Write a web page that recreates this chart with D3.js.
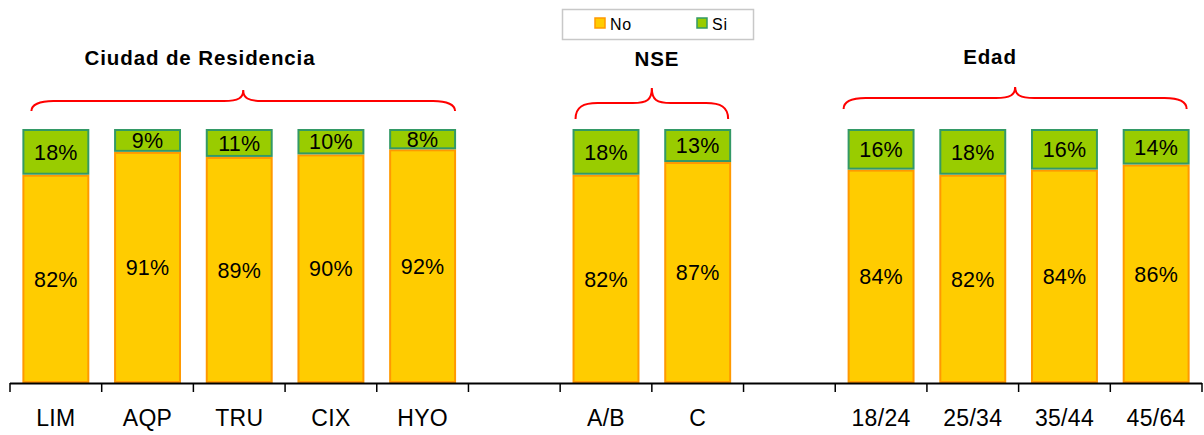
<!DOCTYPE html>
<html>
<head>
<meta charset="utf-8">
<script src="https://cdn.jsdelivr.net/npm/d3@7/dist/d3.min.js"></script>
<style>
  html, body { margin: 0; padding: 0; background: #fff; }
  svg { display: block; font-family: "Liberation Sans", Arial, sans-serif; }
</style>
</head>
<body>
<svg id="chart" width="1204" height="435"></svg>
<script>
// Categories along the axis; empty slots separate the three groups
const categories = ["LIM", "AQP", "TRU", "CIX", "HYO", "_g1", "A/B", "C", "_g2", "18/24", "25/34", "35/44", "45/64"];
const barCategories = ["LIM", "AQP", "TRU", "CIX", "HYO", "A/B", "C", "18/24", "25/34", "35/44", "45/64"];
const noValues = [82, 91, 89, 90, 92, 82, 87, 84, 82, 84, 86];
const siValues = [18, 9, 11, 10, 8, 18, 13, 16, 18, 16, 14];
const seriesNames = ["No", "Si"];
const groupTitles = ["Ciudad de Residencia", "NSE", "Edad"];
const groupMembers = [["LIM", "HYO"], ["A/B", "C"], ["18/24", "45/64"]];

const svg = d3.select("#chart");
const colors = {
  No: { fill: "#FFCC00", stroke: "#FF9900" },
  Si: { fill: "#99CC00", stroke: "#339966" }
};

const x = d3.scaleBand().domain(categories).range([10, 1202]).paddingInner(0.27).paddingOuter(0.135);
const y = d3.scaleLinear().domain([0, 100]).range([383, 129]);

const rows = barCategories.map((c, i) => ({ cat: c, No: noValues[i], Si: siValues[i] }));
const stacked = d3.stack().keys(seriesNames)(rows);

// Stacked bars
const layers = svg.append("g").selectAll("g").data(stacked).join("g")
  .attr("fill", d => colors[d.key].fill)
  .attr("stroke", d => colors[d.key].stroke)
  .attr("stroke-width", 2);

layers.selectAll("rect").data(d => d).join("rect")
  .attr("x", d => x(d.data.cat) + 1)
  .attr("width", x.bandwidth() - 2)
  .attr("y", d => y(d[1]) + 1)
  .attr("height", d => y(d[0]) - y(d[1]) - 2);

// Value labels centred in each segment
const labels = svg.append("g").attr("font-size", 21.5).attr("letter-spacing", 0.2)
  .attr("fill", "#000").attr("text-anchor", "middle");
stacked.forEach(layer => {
  labels.selectAll(null).data(layer).join("text")
    .attr("x", d => x(d.data.cat) + x.bandwidth() / 2)
    .attr("y", d => (y(d[0]) + y(d[1])) / 2)
    .attr("dy", "0.36em")
    .text(d => (d[1] - d[0]) + "%");
});

// Category axis: ticks at slot boundaries
const axisG = svg.append("g");
axisG.append("line").attr("x1", 10).attr("x2", 1202).attr("y1", 383.5).attr("y2", 383.5)
  .attr("stroke", "#000").attr("stroke-width", 2);
const bounds = d3.range(categories.length + 1).map(i => 10 + i * x.step());
axisG.selectAll("line.tick").data(bounds).join("line").attr("class", "tick")
  .attr("x1", d => d).attr("x2", d => d).attr("y1", 383).attr("y2", 392)
  .attr("stroke", "#000").attr("stroke-width", 1.5);
axisG.selectAll("text").data(categories.filter(c => !c.startsWith("_"))).join("text")
  .attr("x", d => x(d) + x.bandwidth() / 2)
  .attr("y", 426)
  .attr("text-anchor", "middle")
  .attr("font-size", 23)
  .attr("letter-spacing", 0.3)
  .text(d => d);

// Group braces and titles
const braceStyle = [
  { yEnd: 111, yMid: 101, yPeak: 90, inL: 9, inR: 1, titleX: 200, titleY: 65 },
  { yEnd: 119, yMid: 103, yPeak: 88, inL: 3, inR: 3, titleX: 657, titleY: 66 },
  { yEnd: 109, yMid: 98, yPeak: 87, inL: -4, inR: 3, titleX: 990, titleY: 64 }
];

function bracePath(x1, x2, s) {
  const m = (x1 + x2) / 2;
  const r1 = 22, r2 = 12;
  const p = d3.path();
  p.moveTo(x1, s.yEnd);
  p.bezierCurveTo(x1, s.yMid + 4, x1 + r1 * 0.35, s.yMid, x1 + r1, s.yMid);
  p.lineTo(m - r2 * 1.6, s.yMid);
  p.bezierCurveTo(m - r2 * 0.4, s.yMid, m, s.yMid - 3, m, s.yPeak);
  p.bezierCurveTo(m, s.yMid - 3, m + r2 * 0.4, s.yMid, m + r2 * 1.6, s.yMid);
  p.lineTo(x2 - r1, s.yMid);
  p.bezierCurveTo(x2 - r1 * 0.35, s.yMid, x2, s.yMid + 4, x2, s.yEnd);
  return p.toString();
}

groupMembers.forEach((g, i) => {
  const s = braceStyle[i];
  const x1 = x(g[0]) + s.inL;
  const x2 = x(g[1]) + x.bandwidth() - s.inR;
  svg.append("path").attr("d", bracePath(x1, x2, s))
    .attr("fill", "none").attr("stroke", "#FF0000").attr("stroke-width", 2);
  svg.append("text").attr("x", s.titleX).attr("y", s.titleY)
    .attr("text-anchor", "middle").attr("font-weight", "bold").attr("font-size", 20.5)
    .attr("letter-spacing", 0.9)
    .text(groupTitles[i]);
});

// Legend
const legend = svg.append("g");
legend.append("rect").attr("x", 562.5).attr("y", 9.5).attr("width", 191).attr("height", 30)
  .attr("fill", "#fff").attr("stroke", "#C8C8C8").attr("stroke-width", 1.5);
const legendPos = [{ sx: 595, tx: 610 }, { sx: 697, tx: 712 }];
seriesNames.forEach((k, i) => {
  legend.append("rect").attr("x", legendPos[i].sx).attr("y", 18).attr("width", 10).attr("height", 10)
    .attr("fill", colors[k].fill).attr("stroke", colors[k].stroke).attr("stroke-width", 1.5);
  legend.append("text").attr("x", legendPos[i].tx).attr("y", 30).attr("font-size", 16)
    .attr("letter-spacing", 0.8).text(k);
});
</script>
</body>
</html>
